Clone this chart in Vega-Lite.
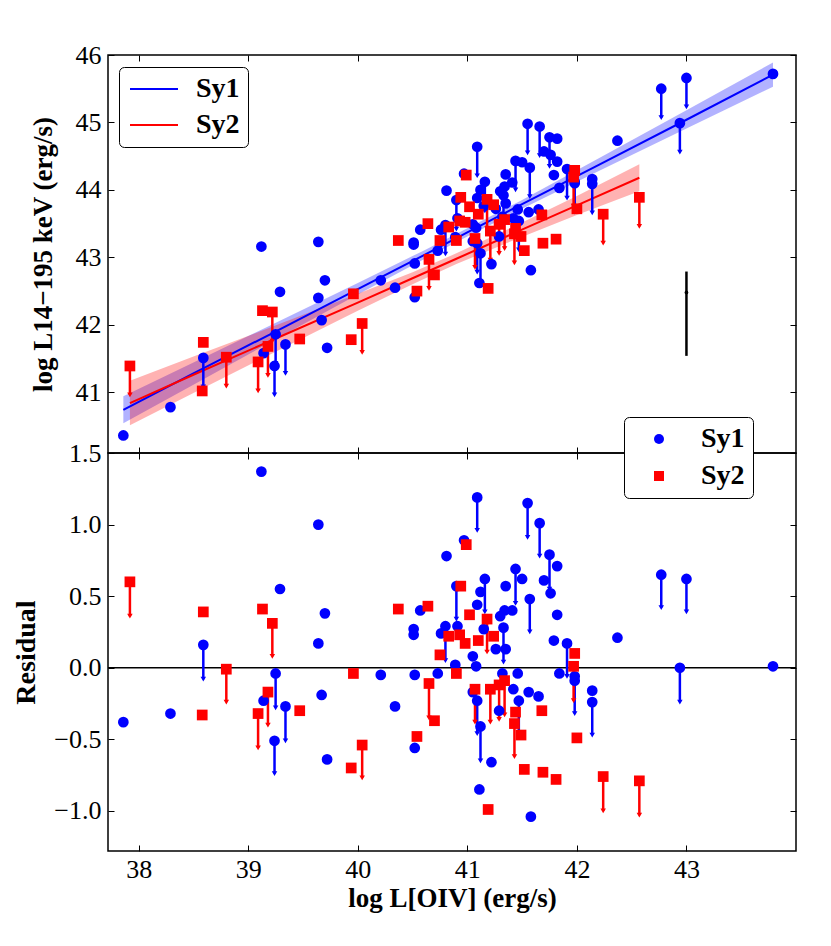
{
  "$schema": "https://vega.github.io/schema/vega-lite/v6.json",
  "padding": {"left": 12, "top": 41, "right": 5, "bottom": 5},
  "datasets": {
    "pts": [
      {"t": "Sy1", "x": 37.86, "y": 40.36, "r": -0.38},
      {"t": "Sy1", "x": 38.29, "y": 40.78, "r": -0.32},
      {"t": "Sy1", "x": 38.59, "y": 41.51, "r": 0.16, "yl": 41.08, "rl": -0.08},
      {"t": "Sy1", "x": 39.12, "y": 43.16, "r": 1.37},
      {"t": "Sy1", "x": 39.25, "y": 41.86, "r": -0.04, "yl": 41.43, "rl": -0.28},
      {"t": "Sy1", "x": 39.14, "y": 41.58, "r": -0.23},
      {"t": "Sy1", "x": 39.34, "y": 41.71, "r": -0.27, "yl": 41.28, "rl": -0.51},
      {"t": "Sy1", "x": 39.24, "y": 41.39, "r": -0.51, "yl": 40.96, "rl": -0.74},
      {"t": "Sy1", "x": 39.64, "y": 43.23, "r": 1.0},
      {"t": "Sy1", "x": 39.29, "y": 42.49, "r": 0.55},
      {"t": "Sy1", "x": 39.7, "y": 42.66, "r": 0.38},
      {"t": "Sy1", "x": 39.64, "y": 42.4, "r": 0.17},
      {"t": "Sy1", "x": 39.67, "y": 42.07, "r": -0.19},
      {"t": "Sy1", "x": 39.72, "y": 41.66, "r": -0.64},
      {"t": "Sy1", "x": 40.21, "y": 42.66, "r": -0.05},
      {"t": "Sy1", "x": 40.34, "y": 42.55, "r": -0.27},
      {"t": "Sy1", "x": 41.09, "y": 44.64, "r": 1.19, "yl": 44.21, "rl": 0.96},
      {"t": "Sy1", "x": 41.55, "y": 44.98, "r": 1.15, "yl": 44.55, "rl": 0.91},
      {"t": "Sy1", "x": 41.66, "y": 44.94, "r": 1.01, "yl": 44.51, "rl": 0.78},
      {"t": "Sy1", "x": 40.97, "y": 44.24, "r": 0.89},
      {"t": "Sy1", "x": 40.81, "y": 43.99, "r": 0.78},
      {"t": "Sy1", "x": 41.75, "y": 44.78, "r": 0.79, "yl": 44.35, "rl": 0.55},
      {"t": "Sy1", "x": 41.82, "y": 44.76, "r": 0.71},
      {"t": "Sy1", "x": 41.44, "y": 44.43, "r": 0.69, "yl": 44.0, "rl": 0.45},
      {"t": "Sy1", "x": 41.5, "y": 44.41, "r": 0.62},
      {"t": "Sy1", "x": 41.7, "y": 44.57, "r": 0.61},
      {"t": "Sy1", "x": 41.16, "y": 44.12, "r": 0.62, "yl": 43.69, "rl": 0.39},
      {"t": "Sy1", "x": 41.76, "y": 44.52, "r": 0.52},
      {"t": "Sy1", "x": 40.9, "y": 43.85, "r": 0.57, "yl": 43.42, "rl": 0.34},
      {"t": "Sy1", "x": 41.12, "y": 44.0, "r": 0.53},
      {"t": "Sy1", "x": 41.35, "y": 44.23, "r": 0.57},
      {"t": "Sy1", "x": 41.57, "y": 44.33, "r": 0.48, "yl": 43.9, "rl": 0.25},
      {"t": "Sy1", "x": 41.09, "y": 43.88, "r": 0.44},
      {"t": "Sy1", "x": 40.57, "y": 43.41, "r": 0.4},
      {"t": "Sy1", "x": 41.34, "y": 44.05, "r": 0.4},
      {"t": "Sy1", "x": 41.41, "y": 44.11, "r": 0.4},
      {"t": "Sy1", "x": 41.3, "y": 43.98, "r": 0.36},
      {"t": "Sy1", "x": 41.82, "y": 44.42, "r": 0.37},
      {"t": "Sy1", "x": 40.51, "y": 43.22, "r": 0.27},
      {"t": "Sy1", "x": 40.51, "y": 43.19, "r": 0.23},
      {"t": "Sy1", "x": 40.8, "y": 43.48, "r": 0.29, "yl": 43.05, "rl": 0.05},
      {"t": "Sy1", "x": 40.76, "y": 43.41, "r": 0.24},
      {"t": "Sy1", "x": 40.91, "y": 43.58, "r": 0.29},
      {"t": "Sy1", "x": 41.15, "y": 43.76, "r": 0.27},
      {"t": "Sy1", "x": 41.33, "y": 43.92, "r": 0.28, "yl": 43.49, "rl": 0.04},
      {"t": "Sy1", "x": 41.79, "y": 44.22, "r": 0.19},
      {"t": "Sy1", "x": 41.91, "y": 44.31, "r": 0.17, "yl": 43.88, "rl": -0.06},
      {"t": "Sy1", "x": 41.26, "y": 43.72, "r": 0.13},
      {"t": "Sy1", "x": 41.35, "y": 43.8, "r": 0.13},
      {"t": "Sy1", "x": 41.05, "y": 43.49, "r": 0.08},
      {"t": "Sy1", "x": 40.89, "y": 43.3, "r": 0.02},
      {"t": "Sy1", "x": 41.08, "y": 43.44, "r": 0.01},
      {"t": "Sy1", "x": 40.52, "y": 42.91, "r": -0.05},
      {"t": "Sy1", "x": 40.73, "y": 43.1, "r": -0.04},
      {"t": "Sy1", "x": 41.32, "y": 43.6, "r": -0.04},
      {"t": "Sy1", "x": 41.46, "y": 43.71, "r": -0.04},
      {"t": "Sy1", "x": 41.84, "y": 44.03, "r": -0.04},
      {"t": "Sy1", "x": 41.98, "y": 44.12, "r": -0.06},
      {"t": "Sy1", "x": 41.98, "y": 44.1, "r": -0.09, "yl": 43.67, "rl": -0.32},
      {"t": "Sy1", "x": 41.05, "y": 43.24, "r": -0.17},
      {"t": "Sy1", "x": 41.09, "y": 43.21, "r": -0.23, "yl": 42.78, "rl": -0.46},
      {"t": "Sy1", "x": 41.42, "y": 43.58, "r": -0.15},
      {"t": "Sy1", "x": 41.56, "y": 43.67, "r": -0.17},
      {"t": "Sy1", "x": 41.65, "y": 43.71, "r": -0.2},
      {"t": "Sy1", "x": 41.47, "y": 43.54, "r": -0.23, "yl": 43.11, "rl": -0.46},
      {"t": "Sy1", "x": 42.14, "y": 44.16, "r": -0.16},
      {"t": "Sy1", "x": 42.14, "y": 44.09, "r": -0.24, "yl": 43.66, "rl": -0.47},
      {"t": "Sy1", "x": 41.29, "y": 43.31, "r": -0.3},
      {"t": "Sy1", "x": 41.12, "y": 43.06, "r": -0.41, "yl": 42.63, "rl": -0.65},
      {"t": "Sy1", "x": 40.52, "y": 42.41, "r": -0.56},
      {"t": "Sy1", "x": 41.22, "y": 42.9, "r": -0.66},
      {"t": "Sy1", "x": 41.11, "y": 42.62, "r": -0.85},
      {"t": "Sy1", "x": 41.58, "y": 42.81, "r": -1.04},
      {"t": "Sy1", "x": 42.37, "y": 44.73, "r": 0.21},
      {"t": "Sy1", "x": 42.77, "y": 45.5, "r": 0.65, "yl": 45.07, "rl": 0.42},
      {"t": "Sy1", "x": 43.0, "y": 45.66, "r": 0.62, "yl": 45.23, "rl": 0.39},
      {"t": "Sy1", "x": 42.94, "y": 44.99, "r": 0.0, "yl": 44.56, "rl": -0.24},
      {"t": "Sy1", "x": 43.79, "y": 45.72, "r": 0.01},
      {"t": "Sy2", "x": 37.92, "y": 41.39, "r": 0.6, "yl": 40.96, "rl": 0.36},
      {"t": "Sy2", "x": 38.59, "y": 41.74, "r": 0.39},
      {"t": "Sy2", "x": 38.58, "y": 41.02, "r": -0.33},
      {"t": "Sy2", "x": 38.8, "y": 41.52, "r": -0.01, "yl": 41.09, "rl": -0.24},
      {"t": "Sy2", "x": 39.13, "y": 42.21, "r": 0.41},
      {"t": "Sy2", "x": 39.22, "y": 42.19, "r": 0.31, "yl": 41.76, "rl": 0.08},
      {"t": "Sy2", "x": 39.18, "y": 41.68, "r": -0.17, "yl": 41.25, "rl": -0.4},
      {"t": "Sy2", "x": 39.09, "y": 41.45, "r": -0.32, "yl": 41.02, "rl": -0.56},
      {"t": "Sy2", "x": 39.47, "y": 41.79, "r": -0.3},
      {"t": "Sy2", "x": 39.96, "y": 42.46, "r": -0.04},
      {"t": "Sy2", "x": 39.94, "y": 41.78, "r": -0.7},
      {"t": "Sy2", "x": 40.04, "y": 42.02, "r": -0.54, "yl": 41.59, "rl": -0.77},
      {"t": "Sy2", "x": 40.37, "y": 43.25, "r": 0.41},
      {"t": "Sy2", "x": 40.99, "y": 44.22, "r": 0.86},
      {"t": "Sy2", "x": 40.94, "y": 43.89, "r": 0.57},
      {"t": "Sy2", "x": 40.64, "y": 43.5, "r": 0.43},
      {"t": "Sy2", "x": 41.02, "y": 43.75, "r": 0.37},
      {"t": "Sy2", "x": 41.18, "y": 43.86, "r": 0.34, "yl": 43.43, "rl": 0.11},
      {"t": "Sy2", "x": 40.83, "y": 43.45, "r": 0.22},
      {"t": "Sy2", "x": 40.93, "y": 43.54, "r": 0.23},
      {"t": "Sy2", "x": 40.98, "y": 43.52, "r": 0.17},
      {"t": "Sy2", "x": 41.1, "y": 43.64, "r": 0.19},
      {"t": "Sy2", "x": 41.24, "y": 43.78, "r": 0.22},
      {"t": "Sy2", "x": 40.75, "y": 43.25, "r": 0.09},
      {"t": "Sy2", "x": 41.98, "y": 44.29, "r": 0.1},
      {"t": "Sy2", "x": 41.97, "y": 44.19, "r": 0.01, "yl": 43.76, "rl": -0.23},
      {"t": "Sy2", "x": 40.9, "y": 43.25, "r": -0.04},
      {"t": "Sy2", "x": 40.65, "y": 42.97, "r": -0.11, "yl": 42.54, "rl": -0.35},
      {"t": "Sy2", "x": 41.07, "y": 43.28, "r": -0.15, "yl": 42.85, "rl": -0.38},
      {"t": "Sy2", "x": 41.21, "y": 43.39, "r": -0.15, "yl": 42.96, "rl": -0.38},
      {"t": "Sy2", "x": 41.29, "y": 43.49, "r": -0.12, "yl": 43.06, "rl": -0.36},
      {"t": "Sy2", "x": 41.34, "y": 43.56, "r": -0.09, "yl": 43.13, "rl": -0.33},
      {"t": "Sy2", "x": 41.44, "y": 43.43, "r": -0.31},
      {"t": "Sy2", "x": 41.43, "y": 43.35, "r": -0.39, "yl": 42.92, "rl": -0.62},
      {"t": "Sy2", "x": 41.68, "y": 43.63, "r": -0.3},
      {"t": "Sy2", "x": 41.49, "y": 43.31, "r": -0.47},
      {"t": "Sy2", "x": 42.0, "y": 43.72, "r": -0.49},
      {"t": "Sy2", "x": 40.7, "y": 42.74, "r": -0.37},
      {"t": "Sy2", "x": 40.54, "y": 42.5, "r": -0.48},
      {"t": "Sy2", "x": 41.52, "y": 43.1, "r": -0.71},
      {"t": "Sy2", "x": 41.69, "y": 43.21, "r": -0.73},
      {"t": "Sy2", "x": 41.81, "y": 43.27, "r": -0.78},
      {"t": "Sy2", "x": 42.24, "y": 43.64, "r": -0.76, "yl": 43.21, "rl": -1.0},
      {"t": "Sy2", "x": 41.19, "y": 42.54, "r": -0.99},
      {"t": "Sy2", "x": 42.57, "y": 43.89, "r": -0.79, "yl": 43.46, "rl": -1.03}
    ],
    "fit": [
      {"t": "Sy1", "x": 37.86, "y": 40.74, "lo": 40.54, "hi": 40.94},
      {"t": "Sy1", "x": 38.5, "y": 41.28, "lo": 41.11, "hi": 41.44},
      {"t": "Sy1", "x": 39.2, "y": 41.86, "lo": 41.74, "hi": 41.99},
      {"t": "Sy1", "x": 40.0, "y": 42.53, "lo": 42.45, "hi": 42.62},
      {"t": "Sy1", "x": 40.6, "y": 43.03, "lo": 42.97, "hi": 43.1},
      {"t": "Sy1", "x": 41.0, "y": 43.37, "lo": 43.31, "hi": 43.43},
      {"t": "Sy1", "x": 41.5, "y": 43.79, "lo": 43.72, "hi": 43.85},
      {"t": "Sy1", "x": 42.2, "y": 44.37, "lo": 44.28, "hi": 44.47},
      {"t": "Sy1", "x": 43.0, "y": 45.04, "lo": 44.91, "hi": 45.18},
      {"t": "Sy1", "x": 43.79, "y": 45.71, "lo": 45.53, "hi": 45.89},
      {"t": "Sy2", "x": 37.92, "y": 40.84, "lo": 40.51, "hi": 41.17},
      {"t": "Sy2", "x": 38.5, "y": 41.26, "lo": 40.99, "hi": 41.53},
      {"t": "Sy2", "x": 39.2, "y": 41.76, "lo": 41.56, "hi": 41.96},
      {"t": "Sy2", "x": 40.0, "y": 42.33, "lo": 42.21, "hi": 42.46},
      {"t": "Sy2", "x": 40.5, "y": 42.69, "lo": 42.6, "hi": 42.78},
      {"t": "Sy2", "x": 40.9, "y": 42.98, "lo": 42.9, "hi": 43.06},
      {"t": "Sy2", "x": 41.4, "y": 43.34, "lo": 43.24, "hi": 43.44},
      {"t": "Sy2", "x": 42.0, "y": 43.77, "lo": 43.63, "hi": 43.91},
      {"t": "Sy2", "x": 42.57, "y": 44.18, "lo": 43.98, "hi": 44.38}
    ],
    "err": [
      {"x": 43.0, "y": 42.48, "lo": 41.54, "hi": 42.79}
    ]
  },
  "vconcat": [
    {
      "width": 688,
      "height": 398,
      "layer": [
        {
          "data": {"name": "fit"},
          "mark": {"type": "area", "fillOpacity": 0.3},
          "encoding": {
            "x": {"field": "x", "type": "quantitative", "scale": {"domain": [37.72, 44.0], "nice": false, "zero": false}, "axis": null},
            "y": {"field": "lo", "type": "quantitative", "scale": {"domain": [40.1, 46], "nice": false, "zero": false}, "axis": null},
            "y2": {"field": "hi"},
            "color": {"field": "t", "type": "nominal", "scale": {"domain": ["Sy1", "Sy2"], "range": ["#0000ff", "#ff0000"]}, "legend": null}
          }
        },
        {
          "data": {"name": "fit"},
          "mark": {"type": "line", "strokeWidth": 2},
          "encoding": {
            "x": {"field": "x", "type": "quantitative", "axis": null},
            "y": {"field": "y", "type": "quantitative", "axis": null},
            "color": {
              "field": "t", "type": "nominal",
              "scale": {"domain": ["Sy1", "Sy2"], "range": ["#0000ff", "#ff0000"]},
              "legend": {
                "title": null, "orient": "none", "legendX": 11, "legendY": 12,
                "symbolType": "M-2,0H2", "symbolSize": 576, "symbolStrokeWidth": 2,
                "symbolOffset": 13,
                "labelFontSize": 28, "labelFontWeight": "bold", "labelOffset": 28,
                "rowPadding": 8, "padding": 8,
                "strokeColor": "black", "fillColor": "white", "cornerRadius": 5
              }
            }
          }
        },
        {
          "data": {"name": "pts"},
          "transform": [{"filter": "isValid(datum.yl)"}],
          "mark": {"type": "rule", "strokeWidth": 2.5},
          "encoding": {
            "x": {"field": "x", "type": "quantitative", "axis": null},
            "y": {"field": "y", "type": "quantitative", "axis": null},
            "y2": {"field": "yl"},
            "color": {"field": "t", "type": "nominal", "scale": {"domain": ["Sy1", "Sy2"], "range": ["#0000ff", "#ff0000"]}, "legend": null}
          }
        },
        {
          "data": {"name": "pts"},
          "transform": [{"filter": "isValid(datum.yl)"}],
          "mark": {"type": "point", "shape": "triangle-down", "filled": true, "size": 30, "opacity": 1},
          "encoding": {
            "x": {"field": "x", "type": "quantitative", "axis": null},
            "y": {"field": "yl", "type": "quantitative", "axis": null},
            "color": {"field": "t", "type": "nominal", "scale": {"domain": ["Sy1", "Sy2"], "range": ["#0000ff", "#ff0000"]}, "legend": null}
          }
        },
        {
          "data": {"name": "pts"},
          "mark": {"type": "point", "filled": true, "size": 115, "opacity": 1},
          "encoding": {
            "x": {"field": "x", "type": "quantitative", "axis": {"orient": "bottom", "values": [38, 39, 40, 41, 42, 43], "labels": false, "title": null}},
            "y": {"field": "y", "type": "quantitative", "axis": {"orient": "left", "values": [41, 42, 43, 44, 45, 46], "title": "log L14−195 keV (erg/s)", "titlePadding": 18, "titleFontSize": 27}},
            "color": {"field": "t", "type": "nominal", "scale": {"domain": ["Sy1", "Sy2"], "range": ["#0000ff", "#ff0000"]}, "legend": null},
            "shape": {"field": "t", "type": "nominal", "scale": {"domain": ["Sy1", "Sy2"], "range": ["circle", "square"]}, "legend": null}
          }
        },
        {
          "data": {"name": "err"},
          "mark": {"type": "rule", "strokeWidth": 2.5, "color": "black"},
          "encoding": {
            "x": {"field": "x", "type": "quantitative", "axis": {"orient": "top", "values": [38, 39, 40, 41, 42, 43], "labels": false, "title": null}},
            "y": {"field": "lo", "type": "quantitative", "axis": {"orient": "right", "values": [41, 42, 43, 44, 45, 46], "labels": false, "title": null}},
            "y2": {"field": "hi"}
          }
        },
        {
          "data": {"name": "err"},
          "mark": {"type": "point", "filled": true, "size": 14, "color": "black", "opacity": 1},
          "encoding": {
            "x": {"field": "x", "type": "quantitative", "axis": null},
            "y": {"field": "y", "type": "quantitative", "axis": null}
          }
        }
      ],
      "resolve": {
        "axis": {"x": "independent", "y": "independent"},
        "scale": {"color": "independent", "shape": "independent"},
        "legend": {"color": "independent", "shape": "independent"}
      }
    },
    {
      "width": 688,
      "height": 398,
      "layer": [
        {
          "data": {"values": [{}]},
          "mark": {"type": "rule", "strokeWidth": 1.5, "color": "black"},
          "encoding": {
            "y": {"datum": 0, "type": "quantitative", "scale": {"domain": [-1.28, 1.5], "nice": false, "zero": false}, "axis": null}
          }
        },
        {
          "data": {"name": "pts"},
          "transform": [{"filter": "isValid(datum.rl)"}],
          "mark": {"type": "rule", "strokeWidth": 2.5},
          "encoding": {
            "x": {"field": "x", "type": "quantitative", "scale": {"domain": [37.72, 44.0], "nice": false, "zero": false}, "axis": null},
            "y": {"field": "r", "type": "quantitative", "axis": null},
            "y2": {"field": "rl"},
            "color": {"field": "t", "type": "nominal", "scale": {"domain": ["Sy1", "Sy2"], "range": ["#0000ff", "#ff0000"]}, "legend": null}
          }
        },
        {
          "data": {"name": "pts"},
          "transform": [{"filter": "isValid(datum.rl)"}],
          "mark": {"type": "point", "shape": "triangle-down", "filled": true, "size": 30, "opacity": 1},
          "encoding": {
            "x": {"field": "x", "type": "quantitative", "axis": {"orient": "top", "values": [38, 39, 40, 41, 42, 43], "labels": false, "title": null}},
            "y": {"field": "rl", "type": "quantitative", "axis": {"orient": "right", "values": [-1, -0.5, 0, 0.5, 1, 1.5], "labels": false, "title": null}},
            "color": {"field": "t", "type": "nominal", "scale": {"domain": ["Sy1", "Sy2"], "range": ["#0000ff", "#ff0000"]}, "legend": null}
          }
        },
        {
          "data": {"name": "pts"},
          "mark": {"type": "point", "filled": true, "size": 115, "opacity": 1},
          "encoding": {
            "x": {"field": "x", "type": "quantitative", "axis": {"orient": "bottom", "values": [38, 39, 40, 41, 42, 43], "title": "log L[OIV] (erg/s)", "titlePadding": 3, "labelPadding": 11, "titleFontSize": 27}},
            "y": {"field": "r", "type": "quantitative", "axis": {"orient": "left", "values": [-1, -0.5, 0, 0.5, 1, 1.5], "format": ".1f", "title": "Residual", "titlePadding": 13, "titleFontSize": 28}},
            "color": {
              "field": "t", "type": "nominal",
              "scale": {"domain": ["Sy1", "Sy2"], "range": ["#0000ff", "#ff0000"]},
              "legend": {
                "title": null, "orient": "none", "legendX": 516, "legendY": -36,
                "symbolSize": 100, "labelFontSize": 28, "labelFontWeight": "bold",
                "labelOffset": 28, "symbolOffset": 13, "rowPadding": 9, "padding": 8,
                "strokeColor": "black", "fillColor": "white", "cornerRadius": 5
              }
            },
            "shape": {
              "field": "t", "type": "nominal",
              "scale": {"domain": ["Sy1", "Sy2"], "range": ["circle", "square"]},
              "legend": {
                "title": null, "orient": "none", "legendX": 516, "legendY": -36,
                "symbolSize": 100, "labelFontSize": 28, "labelFontWeight": "bold",
                "labelOffset": 28, "symbolOffset": 13, "rowPadding": 9, "padding": 8,
                "strokeColor": "black", "fillColor": "white", "cornerRadius": 5
              }
            }
          }
        }
      ],
      "resolve": {
        "axis": {"x": "independent", "y": "independent"},
        "scale": {"color": "independent", "shape": "independent"},
        "legend": {"color": "independent", "shape": "independent"}
      }
    }
  ],
  "spacing": 0,
  "bounds": "flush",
  "resolve": {
    "scale": {"color": "independent", "shape": "independent"},
    "legend": {"color": "independent", "shape": "independent"}
  },
  "config": {
    "font": "Liberation Serif",
    "view": {"stroke": "black", "strokeWidth": 1.5},
    "axis": {
      "grid": false,
      "domain": false,
      "tickColor": "black",
      "tickSize": -6,
      "tickWidth": 1,
      "labelPadding": 13,
      "labelFont": "Liberation Serif",
      "labelFontSize": 26,
      "labelColor": "black",
      "titleFont": "Liberation Serif",
      "titleFontSize": 27,
      "titleFontWeight": "bold",
      "titleColor": "black"
    },
    "legend": {
      "labelFont": "Liberation Serif",
      "labelColor": "black"
    }
  }
}
